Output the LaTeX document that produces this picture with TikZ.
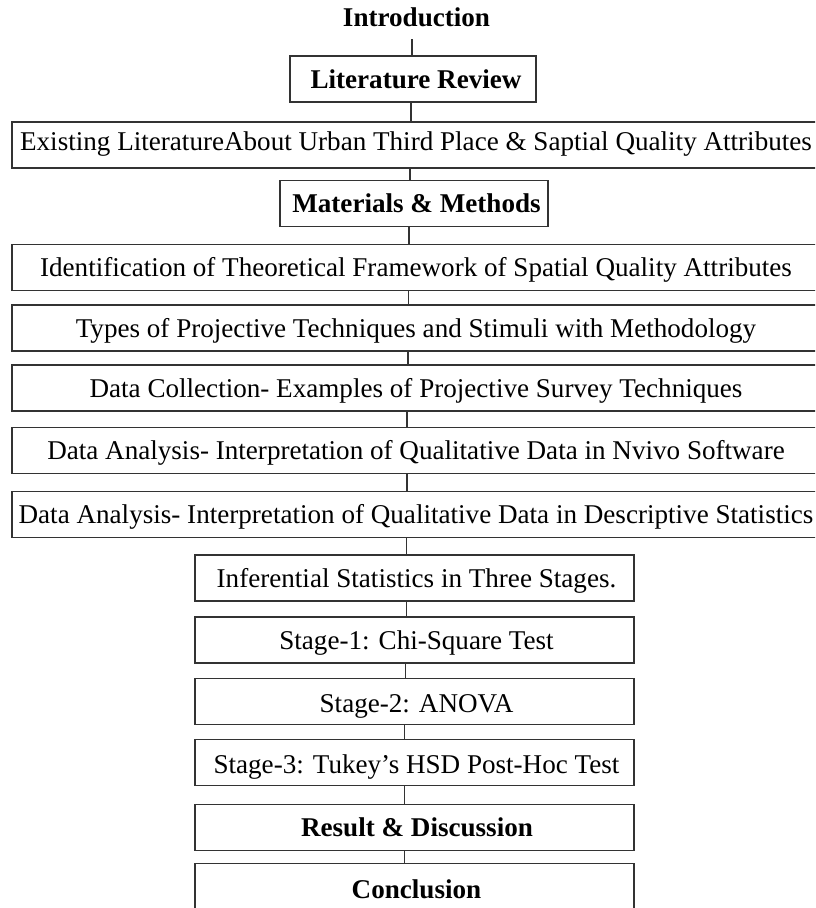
\documentclass[tikz,border=0pt]{standalone}
\usepackage{fontspec}
\setmainfont{Liberation Serif}
\begin{document}
\begin{tikzpicture}[x=1pt,y=-1pt,
  box/.style={draw=black!80,line width=1.5pt,rectangle,inner xsep=0pt,inner ysep=0pt,
    minimum height=46pt,text height=32pt,text depth=14pt,
    font=\fontsize{27.1}{30}\selectfont},
  bbox/.style={box,font=\fontsize{27.1}{30}\selectfont\bfseries},
  conn/.style={draw=black!80,line width=1.3pt}]
\clip (0,0) rectangle (815,908);
\node[font=\fontsize{27.1}{30}\selectfont\bfseries,anchor=base,inner sep=0pt] (intro) at (416.5,26) {Introduction};
\node[bbox,minimum width=246pt] (lit) at (413,79) {\hspace*{6pt}Literature Review};
\node[box,minimum width=808pt,text height=28pt,text depth=18pt] (exist) at (416,145) {Existing LiteratureAbout Urban Third Place \& Saptial Quality Attributes};
\node[bbox,minimum width=268pt] (mat) at (414,203.6) {\hspace*{5pt}Materials \& Methods};
\node[box,minimum width=808pt] (ident) at (416,267.3) {Identification of Theoretical Framework of Spatial Quality Attributes};
\node[box,minimum width=808pt] (types) at (416,328) {Types of Projective Techniques and Stimuli with Methodology};
\node[box,minimum width=808pt] (dc) at (416,388) {Data Collection- Examples of Projective Survey Techniques};
\node[box,minimum width=808pt] (nvivo) at (416,450.7) {Data Analysis- Interpretation of Qualitative Data in Nvivo Software};
\node[box,minimum width=808pt] (descr) at (416,514.7) {Data Analysis- Interpretation of Qualitative Data in Descriptive Statistics};
\node[box,minimum width=439pt] (infer) at (414.5,578) {\hspace*{4pt}Inferential Statistics in Three Stages.};
\node[box,minimum width=439pt] (chi) at (414.5,640) {\hspace*{4pt}Stage-1: Chi-Square Test};
\node[box,minimum width=439pt,text height=34pt,text depth=12pt] (anova) at (414.5,701.3) {\hspace*{4pt}Stage-2: ANOVA};
\node[box,minimum width=439pt,text height=34pt,text depth=12pt] (tukey) at (414.5,762.3) {\hspace*{4pt}Stage-3: Tukey’s HSD Post-Hoc Test};
\node[bbox,minimum width=439pt] (result) at (414.5,827.5) {\hspace*{5pt}Result \& Discussion};
\node[bbox,minimum width=439pt,text height=34.7pt,text depth=11.3pt] (concl) at (414.5,886.3) {\hspace*{4pt}Conclusion};
\newcommand\linkboxes[3]{\draw[conn] ([xshift=#3]#1.south) -- ([xshift=#3]#1.south |- #2.north);}
\draw[conn] ([xshift=-4.5pt,yshift=-13pt]intro.base) -- ([xshift=-4.5pt]intro.base |- lit.north);
\linkboxes{lit}{exist}{-2pt}
\linkboxes{exist}{mat}{-6pt}
\linkboxes{mat}{ident}{-5pt}
\linkboxes{ident}{types}{-7.7pt}
\linkboxes{types}{dc}{-8pt}
\linkboxes{dc}{nvivo}{-9pt}
\linkboxes{nvivo}{descr}{-9pt}
\linkboxes{descr}{infer}{-9.3pt}
\linkboxes{infer}{chi}{-7.8pt}
\linkboxes{chi}{anova}{-8.8pt}
\linkboxes{anova}{tukey}{-9.8pt}
\linkboxes{tukey}{result}{-9.8pt}
\linkboxes{result}{concl}{-9.8pt}
\end{tikzpicture}
\end{document}
